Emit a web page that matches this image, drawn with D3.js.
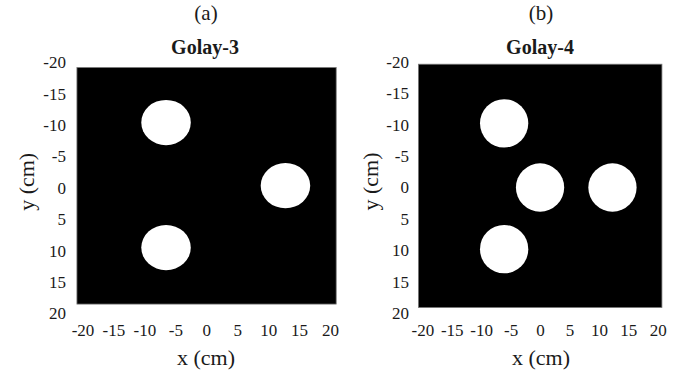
<!DOCTYPE html>
<html>
<head>
<meta charset="utf-8">
<script src="https://cdn.jsdelivr.net/npm/d3@7"></script>
<style>
  html, body { margin: 0; padding: 0; background: #fff; }
  svg { display: block; }
  text { font-family: "Liberation Serif", "Times New Roman", serif; fill: #1a1a1a; }
</style>
</head>
<body>
<svg id="chart" width="688" height="382"></svg>
<script>
// ---------- data ----------
const panelLabels = ["(a)", "(b)"];
const panelTitles = ["Golay-3", "Golay-4"];
const xTickValues = [-20, -15, -10, -5, 0, 5, 10, 15, 20];
const yTickValues = [-20, -15, -10, -5, 0, 5, 10, 15, 20];
const xAxisTitle = "x (cm)";
const yAxisTitle = "y (cm)";

// aperture centres (cm)
const golay3X = [-6.5, 12.8, -6.5];
const golay3Y = [-10.4, -0.35, 9.5];
const golay4X = [-6.1, 0.0, 12.3, -6.1];
const golay4Y = [-10.2, 0.0, 0.0, 9.8];
// aperture radii (cm), x and y
const apertureRadiusX = [4.0, 4.1];
const apertureRadiusY = [3.6, 3.85];
// extent of the black field (cm)
const fieldXExtent = [[-20.9, 21.0], [-20.66, 20.7]];
const fieldYExtent = [[-19.15, 18.5], [-19.6, 19.08]];

// ---------- layout ----------
const layouts = [
  { xr: [82.5, 330], yr: [62.2, 313.5], cx: 206, ytx: 66, ytitleX: 26 },
  { xr: [422.3, 657.8], yr: [61.7, 313.3], cx: 541, ytx: 409, ytitleX: 370 }
];
const apertures = [
  golay3X.map((x, i) => ({ x, y: golay3Y[i] })),
  golay4X.map((x, i) => ({ x, y: golay4Y[i] }))
];
const fmt = d => String(d);   // plain hyphen-minus as in the reference

const svg = d3.select("#chart");

layouts.forEach((L, p) => {
  const x = d3.scaleLinear().domain([-20, 20]).range(L.xr);
  const y = d3.scaleLinear().domain([-20, 20]).range(L.yr);
  const g = svg.append("g");

  // panel label and title
  g.append("text").attr("x", L.cx).attr("y", 20)
    .attr("text-anchor", "middle").style("font-size", "21px")
    .text(panelLabels[p]);
  g.append("text").attr("x", L.cx - 1).attr("y", 54)
    .attr("text-anchor", "middle").style("font-size", "20px").style("font-weight", "bold")
    .text(panelTitles[p]);

  // black field
  const fx = fieldXExtent[p], fy = fieldYExtent[p];
  g.append("rect")
    .attr("x", x(fx[0])).attr("y", y(fy[0]))
    .attr("width", x(fx[1]) - x(fx[0]))
    .attr("height", y(fy[1]) - y(fy[0]))
    .attr("fill", "#000")
    .attr("stroke", "#777").attr("stroke-width", 0.8);

  // apertures
  g.selectAll("ellipse.ap").data(apertures[p]).join("ellipse")
    .attr("class", "ap")
    .attr("cx", d => x(d.x)).attr("cy", d => y(d.y))
    .attr("rx", x(apertureRadiusX[p]) - x(0))
    .attr("ry", y(apertureRadiusY[p]) - y(0))
    .attr("fill", "#fff");

  // x axis (labels only)
  const xAxis = d3.axisBottom(x).tickValues(xTickValues).tickSize(0).tickPadding(0)
    .tickFormat(fmt);
  const xg = g.append("g").attr("transform", "translate(0,324)").call(xAxis);
  xg.select(".domain").remove();
  xg.selectAll("text").style("font-size", "17px")
    .style("font-family", "'Liberation Serif', serif").attr("fill", "#1a1a1a").attr("dy", "0.71em");

  // y axis (labels only)
  const yAxis = d3.axisLeft(y).tickValues(yTickValues).tickSize(0).tickPadding(0)
    .tickFormat(fmt);
  const yg = g.append("g").attr("transform", `translate(${L.ytx},0)`).call(yAxis);
  yg.select(".domain").remove();
  yg.selectAll("text").style("font-size", "17px")
    .style("font-family", "'Liberation Serif', serif").attr("fill", "#1a1a1a");

  // axis titles
  g.append("text").attr("x", L.cx).attr("y", 365)
    .attr("text-anchor", "middle").style("font-size", "22px")
    .text(xAxisTitle);
  g.append("text")
    .attr("transform", `translate(${L.ytitleX},${(L.yr[0] + L.yr[1]) / 2 - 6}) rotate(-90)`)
    .attr("text-anchor", "middle").attr("dy", "0.35em").style("font-size", "22px")
    .text(yAxisTitle);
});
</script>
</body>
</html>
